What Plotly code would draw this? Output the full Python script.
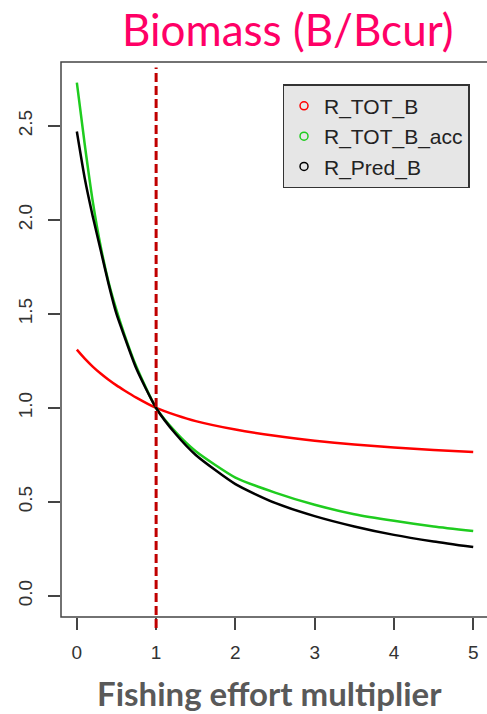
import plotly.graph_objects as go

# Fishing effort multiplier and relative biomass (B/Bcur) per scenario
effort = [0, 0.1, 0.2, 0.3, 0.4, 0.5, 0.6, 0.75, 1, 1.25, 1.5, 2, 2.5, 3, 3.5, 4, 4.5, 5]
r_tot_b = [1.31, 1.262, 1.220, 1.183, 1.150, 1.120, 1.093, 1.055, 1.00, 0.962, 0.93, 0.885, 0.852, 0.826, 0.806, 0.79, 0.777, 0.766]
r_tot_b_acc = [2.73, 2.40, 2.10, 1.86, 1.67, 1.52, 1.39, 1.22, 1.00, 0.87, 0.77, 0.63, 0.55, 0.485, 0.435, 0.40, 0.37, 0.346]
r_pred_b = [2.47, 2.22, 2.02, 1.84, 1.66, 1.50, 1.38, 1.21, 1.00, 0.86, 0.75, 0.595, 0.495, 0.425, 0.37, 0.325, 0.29, 0.26]

series_names = ["R_TOT_B", "R_TOT_B_acc", "R_Pred_B"]
series_values = [r_tot_b, r_tot_b_acc, r_pred_b]
series_colors = ["#ff0000", "#1fcc1f", "#000000"]

x_ticks = [0, 1, 2, 3, 4, 5]
y_ticks = [0.0, 0.5, 1.0, 1.5, 2.0, 2.5]
y_tick_labels = ["0.0", "0.5", "1.0", "1.5", "2.0", "2.5"]
reference_effort = 1

fig = go.Figure()

for name, vals, col in zip(series_names, series_values, series_colors):
    fig.add_trace(go.Scatter(
        x=effort, y=vals, mode="lines", name=name,
        line=dict(color=col, width=2.5, shape="spline", smoothing=0.6),
        showlegend=False,
    ))

# legend entries drawn as open circles
for name, col in zip(series_names, series_colors):
    fig.add_trace(go.Scatter(
        x=[None], y=[None], mode="markers", name=name,
        marker=dict(symbol="circle-open", size=8, color=col, line=dict(width=1.5)),
    ))

# reference effort line
fig.add_shape(type="line", xref="x", yref="paper",
              x0=reference_effort, x1=reference_effort, y0=-0.02, y1=0.99,
              line=dict(color="#c00000", width=3, dash="9px,4px"))

# plot frame (right edge runs off the page)
fig.add_shape(type="rect", xref="paper", yref="paper",
              x0=0, x1=1.05, y0=0, y1=1,
              line=dict(color="#444444", width=1.5), layer="above")

fig.add_annotation(text="Biomass (B/Bcur)", xref="paper", yref="paper",
                   x=0.533, y=(617 - 29) / 555, xanchor="center", yanchor="middle",
                   showarrow=False, font=dict(family="Lato", size=44, color="#ff0066"))

fig.add_annotation(text="<b>Fishing effort multiplier</b>", xref="paper", yref="paper",
                   x=0.4906, y=(617 - 693) / 555, xanchor="center", yanchor="middle",
                   showarrow=False, font=dict(family="Lato", size=33, color="#595959"))

tick_font = dict(family="Liberation Sans, Arial, sans-serif", size=19, color="#333333")

fig.update_xaxes(range=[-0.2, 5.174], tickvals=x_ticks, ticks="outside", ticklen=12,
                 tickwidth=1.5, tickcolor="#444444", showgrid=False, zeroline=False,
                 showline=False, tickfont=tick_font, ticklabelstandoff=6)
fig.update_yaxes(range=[-0.1117, 2.840], tickvals=y_ticks, ticktext=y_tick_labels,
                 ticks="outside", ticklen=12, tickwidth=1.5, tickcolor="#444444",
                 showgrid=False, zeroline=False, showline=False, tickangle=-90,
                 tickfont=tick_font, ticklabelstandoff=8)

fig.update_layout(
    width=487, height=714,
    margin=dict(l=61, r=0, t=62, b=97),
    paper_bgcolor="white", plot_bgcolor="white",
    legend=dict(x=0.52, y=0.96, xanchor="left", yanchor="top",
                bgcolor="#e6e6e6", bordercolor="#333333", borderwidth=1.5,
                font=dict(family="Liberation Sans, Arial, sans-serif", size=21, color="#222222"),
                itemwidth=30, tracegroupgap=0),
)

fig.write_html("out.html")
